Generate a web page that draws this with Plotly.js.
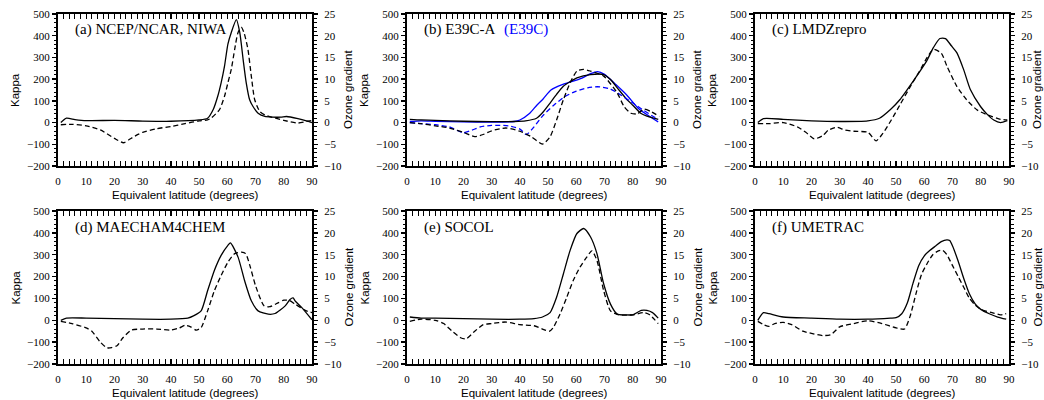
<!DOCTYPE html>
<html><head><meta charset="utf-8">
<script src="https://cdn.plot.ly/plotly-3.0.1.min.js"></script>
<style>html,body{margin:0;padding:0;background:#fff}</style>
</head><body><div id="chart" style="width:1044px;height:400px"></div>
<script>
// ---------- data (latitude in degrees; Kappa on left axis; Ozone gradient on right axis) ----------
const panelLabels = ["(a) NCEP/NCAR, NIWA", "(b) E39C-A", "(c) LMDZrepro", "(d) MAECHAM4CHEM", "(e) SOCOL", "(f) UMETRAC"];
const extraLabel = "(E39C)";
const xTitle = "Equivalent latitude (degrees)";
const yLeftTitle = "Kappa";
const yRightTitle = "Ozone gradient";

// (a)
const aKappaLat = [1,3,6,10,20,30,40,50,53,55,56.6,57.8,59,60.2,61.4,63.2,64.4,65.6,66.7,67.9,69.1,70.9,73.3,76,79,81,85,88,90];
const aKappa    = [0,20,14,9,10,7,6,12,20,60,121,183,260,361,415,474,415,290,183,105,74,43,28,25,25,28,18,8,0];
const aOzoneLat = [1,5,10,15,20,23.2,25,28,30,35,40,45,50,53,54.2,57.2,59,60.2,61.4,62.6,63.8,65,66,67.3,68.5,69.7,71.5,73.3,77,80,85,88,90];
const aOzone    = [-0.5,-0.4,-0.75,-1.7,-3.65,-4.65,-4,-2.85,-2.25,-1.4,-0.9,-0.25,0.4,0.6,1.0,2.95,6.05,9.15,12.25,16.85,20.75,21.9,20.5,16.85,10.7,5.25,2.55,1.75,1.0,0.5,-0.1,0.25,0.5];

// (b) E39C-A (black) and E39C (blue)
const bKappaLat = [1,5,10,20,30,38,42,45.9,48,50.7,53,55.4,58,60.2,65,69.7,72.1,74.5,78,80,82.8,85,87.6,89];
const bKappa    = [15,12,10,6,4,5,8,20,45,90,130,167,190,206,221,221,198,160,105,80,43,30,20,15];
const bOzoneLat = [1,5,10,15,20,24,27,30,35,40,44,48,50.7,53,55.4,57.8,60.2,62.6,65,69.7,74.5,76.9,79.3,81.6,84,86.4,89.4];
const bOzone    = [0,-0.25,-0.75,-1.25,-2.25,-3.25,-2.75,-1.9,-1.25,-2,-3.25,-4.95,-3.25,0.6,5.25,9.15,11.85,12.25,11.85,10.7,6.8,3.7,2.15,2,3.1,2.55,1.4];
const bBlueKappaLat = [1,5,10,20,30,38,40,43.5,46,48.3,51,55,58,62,65,67.5,70,74,78,82,86,89];
const bBlueKappa    = [5,8,6,3,2,5,12,43,80,110,150,175,187,205,225,235,222,175,125,65,28,3];
const bBlueOzoneLat = [1,5,10,15,20,23,26,30,36,40,42.3,45,48,52,56,60,64,67.5,72,76,80,84,87,89];
const bBlueOzone    = [0,-0.25,-0.5,-1,-2.35,-1.75,-1,-0.65,-0.75,-1.5,-2.75,-1,1.5,4,6,7.25,8,8.25,7.75,6.25,4.5,2.75,1.5,0.75];

// (c)
const cKappaLat = [1,3,10,20,30,40,44.1,48,51.3,56,60.8,63.2,65.5,67.5,69.5,71.5,73.9,76.3,79.9,82.2,84.6,87,89.4];
const cKappa    = [0,18,15,8,5,8,20,60,105,190,283,345,387,387,355,322,245,152,74,39,12,0,9];
const cOzoneLat = [1,5,10,15,18,21,24,26,29,32,35,40,42.9,45.3,48.3,51.3,55,58,61,63.2,66,68,71.5,75,78.6,82.2,87,89.4];
const cOzone    = [-0.25,-0.25,0,-1,-2.25,-3.75,-3,-1.75,-1.1,-1.75,-2,-2.25,-4.2,-2.5,0.6,4,8.25,11.5,15,16.85,16,13,8.35,5.25,2.95,1.8,0.75,0.6];

// (d)
const dKappaLat = [1,3,10,20,30,40,46,48,50.7,53,55.4,57.8,60.2,61.1,63.8,66.1,68.5,70.9,74.5,76.9,80.5,82.2,83.3,84,86.4,90];
const dKappa    = [0,10,10,8,5,5,10,20,43,135,228,297,343,354,289,182,89,43,28,31,66,95,102,89,58,2];
const dOzoneLat = [1,5,10,12,15,17.3,19,21,23,26,30,35,40,43,45,47,49,50.7,53,55.4,57.8,60.2,62.6,65,66.5,68,70,73,75,78,80,82,84,86,88,90];
const dOzone    = [-0.25,-0.75,-1.75,-2.5,-5,-6.3,-6.25,-5.75,-4,-2.25,-2,-2,-2.25,-1.75,-1.15,-1.5,-2.25,-1.7,2.15,6.75,10.25,13.3,15.25,15.6,15.25,12.5,7.9,3.3,3.1,4,4.6,4.5,3.7,2.9,2.15,1.75];

// (e)
const eKappaLat = [1,5,10,20,30,40,45,48,50.7,53,55.4,57.8,60.2,62.6,65,67.3,69.7,72.1,74.5,77,80,83,85,87,89];
const eKappa    = [15,10,10,8,5,5,8,15,35,105,212,320,397,420,382,305,166,74,28,25,25,45,45,35,10];
const eOzoneLat = [1,5,10,13,16,19,21,24,27,30,35,40,45,48,50.5,51.8,54.2,56.6,58.9,61.3,63.7,65.5,67.3,69.7,72.1,75,80,84,86,89];
const eOzone    = [-0.25,0.25,0,-0.75,-2.5,-4,-4.25,-2.5,-1,-0.75,-0.4,-1,-1.25,-2,-2.5,-1.7,1.4,5.25,9.1,12.15,14.45,15.9,13.7,6.75,2.15,1.25,1.25,1.75,1.25,-0.75];

// (f)
const fKappaLat = [1,3,5,10,20,30,40,48,50,52,54,56,58,60,62,64,66,68,69,70,72,74,76,78,80,83,86,89];
const fKappa    = [0,35,30,15,10,5,5,10,12,30,80,170,250,295,320,340,360,368,365,340,270,190,120,75,50,30,15,5];
const fOzoneLat = [1,3,5,7,10,13,17,20,24,27,30,35,40,45,50,53,55,57,59,61,63,65,66.5,68,70,72,74,76,78,80,84,87,89];
const fOzone    = [-0.25,-1,-1.4,-0.75,-0.5,-1,-2.5,-3,-3.5,-3.25,-1.5,-0.75,-0.1,-0.75,-1.75,-2,1,6,10.5,13,15,15.9,16,15,12.5,10,7.5,5,3.5,2.5,1.75,1.25,1.5];

const yLeftTicks = [-200,-100,0,100,200,300,400,500];
const yRightTicks = [-10,-5,0,5,10,15,20,25];
const xTicks = [0,10,20,30,40,50,60,70,80,90];

const panelSeries = [
  [{x:aKappaLat,y:aKappa,side:'L',dash:false,color:'#000'},{x:aOzoneLat,y:aOzone,side:'R',dash:true,color:'#000'}],
  [{x:bBlueKappaLat,y:bBlueKappa,side:'L',dash:false,color:'#0000ff'},{x:bBlueOzoneLat,y:bBlueOzone,side:'R',dash:true,color:'#0000ff'},
   {x:bKappaLat,y:bKappa,side:'L',dash:false,color:'#000'},{x:bOzoneLat,y:bOzone,side:'R',dash:true,color:'#000'}],
  [{x:cKappaLat,y:cKappa,side:'L',dash:false,color:'#000'},{x:cOzoneLat,y:cOzone,side:'R',dash:true,color:'#000'}],
  [{x:dKappaLat,y:dKappa,side:'L',dash:false,color:'#000'},{x:dOzoneLat,y:dOzone,side:'R',dash:true,color:'#000'}],
  [{x:eKappaLat,y:eKappa,side:'L',dash:false,color:'#000'},{x:eOzoneLat,y:eOzone,side:'R',dash:true,color:'#000'}],
  [{x:fKappaLat,y:fKappa,side:'L',dash:false,color:'#000'},{x:fOzoneLat,y:fOzone,side:'R',dash:true,color:'#000'}]
];

// ---------- layout ----------
const W = 1044, H = 400;
const boxes = [[58,312,14,166],[407,661,14,166],[755,1009,14,166],[58,312,211,364],[407,661,211,364],[755,1009,211,364]];
const serif = '"Liberation Serif", "Times New Roman", Times, serif';
const sans = '"Liberation Sans", Arial, Helvetica, sans-serif';

const layout = {width:W,height:H,margin:{l:0,r:0,t:0,b:0},paper_bgcolor:'#fff',plot_bgcolor:'rgba(0,0,0,0)',showlegend:false,
  font:{family:serif,size:11,color:'#000'},annotations:[]};
const traces = [];

boxes.forEach((b,i)=>{
  const xn = i===0 ? '' : String(i+1);
  const yl = 2*i+1, yr = 2*i+2;
  const yln = yl===1 ? '' : String(yl);
  const xd = [b[0]/W, b[1]/W], yd = [1-b[3]/H, 1-b[2]/H];
  const common = () => ({showgrid:false,zeroline:false,showline:true,linewidth:2,linecolor:'#000',tickcolor:'#000',tickwidth:1.3,
                    tickfont:{family:serif,size:11,color:'#000'},fixedrange:true});
  layout['xaxis'+xn] = Object.assign(common(),{domain:xd,anchor:'y'+yln,range:[0,90],tickvals:xTicks,ticks:'inside',ticklen:5,
      mirror:'allticks',ticklabelstandoff:4,minor:{dtick:2,tick0:0,ticks:'inside',ticklen:3,tickwidth:1,tickcolor:'#000'}});
  layout['yaxis'+yln] = Object.assign(common(),{domain:yd,anchor:'x'+xn,range:[-200,500],tickvals:yLeftTicks,ticks:'outside',ticklen:4,
      mirror:false,minor:{dtick:20,tick0:0,ticks:'outside',ticklen:2.5,tickwidth:1,tickcolor:'#000'}});
  layout['yaxis'+yr] = Object.assign(common(),{domain:yd,anchor:'x'+xn,overlaying:'y'+yln,side:'right',range:[-10,25],tickvals:yRightTicks,
      ticks:'outside',ticklen:4,ticklabelstandoff:4,minor:{dtick:1,tick0:0,ticks:'outside',ticklen:2.5,tickwidth:1,tickcolor:'#000'}});

  panelSeries[i].forEach(s=>{
    traces.push({type:'scatter',mode:'lines',x:s.x,y:s.y,xaxis:'x'+xn,yaxis: s.side==='L' ? 'y'+yln : 'y'+yr,
      line:{color:s.color,width:1.3,dash:s.dash?'5px,3px':'solid',shape:'spline',smoothing:0.6},hoverinfo:'skip'});
  });

  const cy = 1-((b[2]+b[3])/2)/H;
  const rx = Math.min(b[1]+36, W-7);
  layout.annotations.push({xref:'paper',yref:'paper',x:(b[0]-43)/W,y:cy,text:yLeftTitle,textangle:-90,showarrow:false,
      font:{family:sans,size:11.5,color:'#000'},xanchor:'center',yanchor:'middle'});
  layout.annotations.push({xref:'paper',yref:'paper',x:rx/W,y:cy,text:yRightTitle,textangle:-90,showarrow:false,
      font:{family:sans,size:11.5,color:'#000'},xanchor:'center',yanchor:'middle'});
  layout.annotations.push({xref:'paper',yref:'paper',x:((b[0]+b[1])/2)/W,y:1-(b[3]+29)/H,text:xTitle,showarrow:false,
      font:{family:sans,size:11.5,color:'#000'},xanchor:'center',yanchor:'middle'});
  layout.annotations.push({xref:'paper',yref:'paper',x:(b[0]+15)/W,y:1-(b[2]+16)/H,text:panelLabels[i],showarrow:false,
      font:{family:serif,size:15,color:'#000'},xanchor:'left',yanchor:'middle'});
  if(i===1){
    layout.annotations.push({xref:'paper',yref:'paper',x:(b[0]+95)/W,y:1-(b[2]+16)/H,text:extraLabel,showarrow:false,
      font:{family:serif,size:15,color:'#0000ff'},xanchor:'left',yanchor:'middle'});
  }
});

Plotly.newPlot('chart',traces,layout,{staticPlot:true,displayModeBar:false});
</script>
</body></html>
